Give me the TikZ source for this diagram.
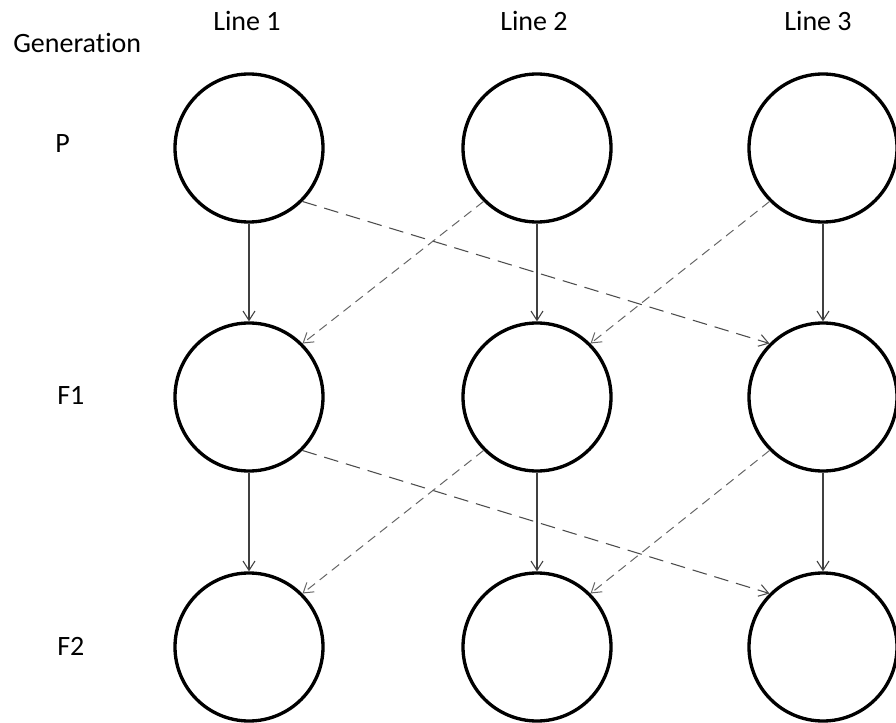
\documentclass[tikz,border=0pt]{standalone}
\usepackage{fontspec}
\setmainfont{Carlito}[Ligatures=NoCommon]
\usetikzlibrary{arrows.meta}
\begin{document}
\begin{tikzpicture}[x=0.75pt,y=-0.75pt,
  gen/.style={circle,draw=black,line width=2.5pt,minimum size=111pt,inner sep=0pt},
  lbl/.style={font=\fontsize{21}{25}\selectfont,inner sep=0pt},
  tip/.style={-{Straight Barb[length=7pt,width=9pt]}},
  solidarr/.style={tip,draw=black!75,line width=0.8pt},
  longdash/.style={tip,draw=black!70,line width=0.8pt,dash pattern=on 11pt off 6pt},
  shortdash/.style={tip,draw=black!60,line width=0.75pt,dash pattern=on 7pt off 4.5pt}]
\useasboundingbox (0,0) rectangle (896,723);
% headers
\node[lbl,anchor=base] (h1) at (247,31) {Line 1};
\node[lbl,anchor=base] (h2) at (534,31) {Line 2};
\node[lbl,anchor=base] (h3) at (818,31) {Line 3};
\node[lbl,anchor=base west] (hg) at (13,53) {Generation};
\node[lbl,anchor=base west] (gp) at (55,153) {P};
\node[lbl,anchor=base west] (gf1) at (57,405) {F1};
\node[lbl,anchor=base west] (gf2) at (57,655) {F2};
% circles
\foreach \c/\x in {1/249,2/537,3/823}{
  \node[gen] (p\c) at (\x,148) {};
  \node[gen] (f\c) at (\x,397) {};
  \node[gen] (g\c) at (\x,647) {};
}
% vertical arrows
\foreach \c in {1,2,3}{
  \draw[solidarr] (p\c.south) -- (f\c.north);
  \draw[solidarr] (f\c.south) -- (g\c.north);
}
% crosses
\draw[longdash] (p1.south east) -- (f3.north west);
\draw[shortdash] (p2.south west) -- (f1.north east);
\draw[shortdash] (p3.south west) -- (f2.north east);
\draw[longdash] (f1.south east) -- (g3.north west);
\draw[shortdash] (f2.south west) -- (g1.north east);
\draw[shortdash] (f3.south west) -- (g2.north east);
\end{tikzpicture}
\end{document}
